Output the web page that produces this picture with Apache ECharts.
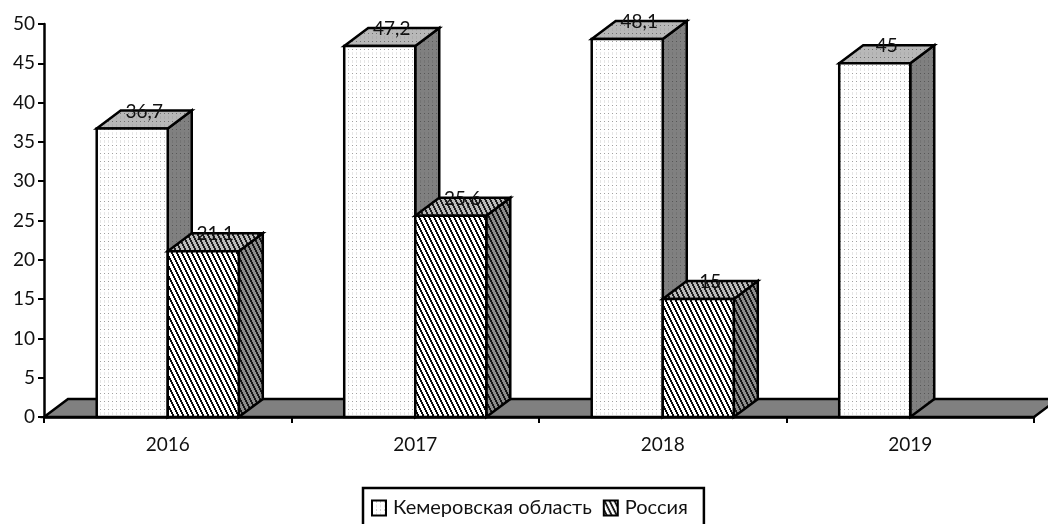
<!DOCTYPE html>
<html>
<head>
<meta charset="utf-8">
<style>html,body{margin:0;padding:0;background:#fff}#c{width:1048px;height:524px}</style>
<script src="https://cdn.jsdelivr.net/npm/echarts@6/dist/echarts.min.js"></script>
</head>
<body>
<div id="c"></div>
<script>
const categories = ['2016', '2017', '2018', '2019'];
const kemerovo = [36.7, 47.2, 48.1, 45];
const russia = [21.1, 25.6, 15, null];
const seriesNames = ['Кемеровская область', 'Россия'];
const yTicks = {min: 0, max: 50, interval: 5};

const FONT = 'Lato, "Open Sans", sans-serif';
const DX = 24, DY = 18, BAR = 0.287;

function dots(bg, fg, soft) {
  const c = document.createElement('canvas');
  c.width = 4; c.height = 8;
  const x = c.getContext('2d');
  x.fillStyle = bg; x.fillRect(0, 0, 4, 8);
  x.fillStyle = fg; x.fillRect(0, 1, 1, 1);
  x.fillStyle = soft; x.fillRect(0, 4, 1, 3);
  return {image: c, repeat: 'repeat'};
}
function hatch(bg, fg) {
  const c = document.createElement('canvas');
  c.width = 5; c.height = 10;
  const x = c.getContext('2d');
  x.fillStyle = bg; x.fillRect(0, 0, 5, 10);
  x.fillStyle = fg;
  for (let r = 0; r < 10; r++) {
    const s = Math.floor(r / 2) % 5;
    x.fillRect(s, r, 2, 1);
    if (s === 4) x.fillRect(0, r, 1, 1);
  }
  return {image: c, repeat: 'repeat'};
}
const kemFill = {front: dots('#ffffff', '#a0a0a0', '#e6e6e6'), top: dots('#b8b8b8', '#707070', '#acacac'), side: dots('#808080', '#565656', '#747474')};
const rusFill = {front: hatch('#ffffff', '#0a0a0a'), top: hatch('#bcbcbc', '#1e1e1e'), side: hatch('#8c8c8c', '#161616')};

function poly(points, fill) {
  return {type: 'polygon', shape: {points: points},
    style: {fill: fill, stroke: '#000', lineWidth: 2.5, lineJoin: 'miter'}};
}
function barRender(fills, offset) {
  return function (params, api) {
    const v = api.value(1);
    const top = api.coord([api.value(0), v]);
    const base = api.coord([api.value(0), 0]);
    const w = api.size([1, 0])[0] * BAR;
    const x0 = top[0] + offset * w, x1 = x0 + w, yt = top[1], yb = base[1];
    return {type: 'group', children: [
      poly([[x1, yb], [x1 + DX, yb - DY], [x1 + DX, yt - DY], [x1, yt]], fills.side),
      poly([[x0, yt], [x0 + DX, yt - DY], [x1 + DX, yt - DY], [x1, yt]], fills.top),
      poly([[x0, yb], [x0, yt], [x1, yt], [x1, yb]], fills.front),
      {type: 'text', style: {text: String(v).replace('.', ','), x: (x0 + x1) / 2 + DX / 2, y: yt - DY + 1,
        align: 'center', verticalAlign: 'middle', font: '19px ' + FONT, fill: '#111'}}
    ]};
  };
}
const toData = arr => arr.map((v, i) => [i, v]).filter(d => d[1] !== null);

const chart = echarts.init(document.getElementById('c'), null, {renderer: 'canvas'});
chart.setOption({
  animation: false,
  backgroundColor: '#fff',
  grid: {left: 44, right: 14, top: 24, bottom: 107, containLabel: false},
  xAxis: {type: 'category', data: categories, boundaryGap: true,
    axisLine: {show: true, lineStyle: {color: '#000', width: 2.5}},
    axisTick: {show: true, alignWithLabel: false, length: 6, lineStyle: {color: '#000', width: 2}},
    axisLabel: {color: '#111', fontFamily: FONT, fontSize: 19, margin: 18}},
  yAxis: {type: 'value', min: yTicks.min, max: yTicks.max, interval: yTicks.interval,
    splitLine: {show: false},
    axisLine: {show: true, lineStyle: {color: '#000', width: 2.5}},
    axisTick: {show: true, length: 6, lineStyle: {color: '#000', width: 2}},
    axisLabel: {color: '#111', fontFamily: FONT, fontSize: 19, margin: 9}},
  legend: {left: 363, top: 488, orient: 'horizontal', data: seriesNames,
    backgroundColor: '#fff', borderColor: '#000', borderWidth: 2.5, borderRadius: 0,
    padding: [10, 16, 30, 8], itemWidth: 14, itemHeight: 15, itemGap: 11,
    icon: 'rect', selectedMode: false,
    textStyle: {color: '#111', fontFamily: FONT, fontSize: 20, padding: [0, 0, 0, 2]}},
  series: [
    {type: 'custom', name: '__floor', silent: true, z: 1, clip: false,
      data: [[0, 0]], encode: {x: 0, y: 1},
      renderItem: function (params, api) {
        const c = params.coordSys, y = api.coord([0, 0])[1];
        return poly([[c.x, y], [c.x + DX, y - DY], [c.x + c.width + DX, y - DY], [c.x + c.width, y]], '#808080');
      }},
    {type: 'custom', name: seriesNames[0], z: 2, clip: false, data: toData(kemerovo), encode: {x: 0, y: 1},
      itemStyle: {color: kemFill.front, borderColor: '#000', borderWidth: 2.5},
      renderItem: barRender(kemFill, -1)},
    {type: 'custom', name: seriesNames[1], z: 3, clip: false, data: toData(russia), encode: {x: 0, y: 1},
      itemStyle: {color: rusFill.front, borderColor: '#000', borderWidth: 2.5},
      renderItem: barRender(rusFill, 0)}
  ]
});
</script>
</body>
</html>
